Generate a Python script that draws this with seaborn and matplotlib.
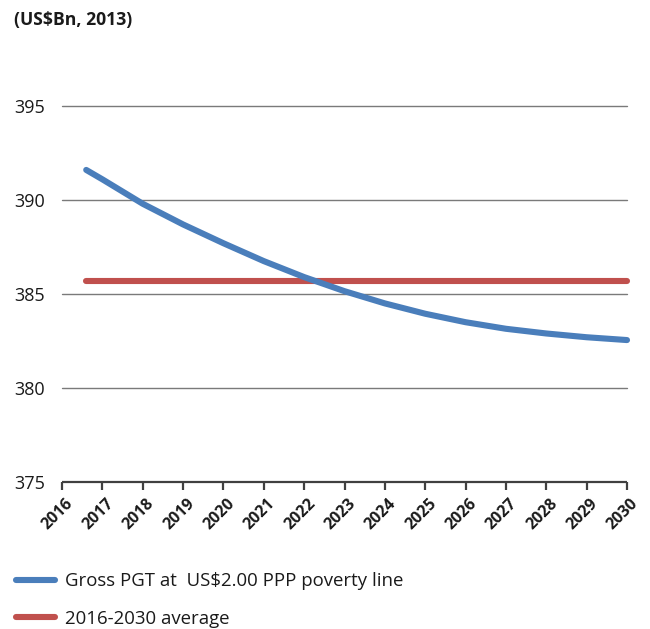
import matplotlib
matplotlib.use("Agg")
import matplotlib.pyplot as plt
import matplotlib.transforms as mtransforms
import numpy as np
import pandas as pd
import seaborn as sns

# Poverty gap total, US$ billions (2013 prices)
years = [2016.6, 2017, 2018, 2019, 2020, 2021, 2022, 2023, 2024, 2025,
         2026, 2027, 2028, 2029, 2030]
gross_pgt = [391.6, 391.1, 389.8, 388.7, 387.7, 386.75, 385.9, 385.15, 384.5,
             383.95, 383.5, 383.15, 382.9, 382.7, 382.55]
average_value = 385.7
tick_years = list(range(2016, 2031))
y_ticks = [375, 380, 385, 390, 395]

series_label = "Gross PGT at  US$2.00 PPP poverty line"
average_label = "2016-2030 average"
unit_label = "(US$Bn, 2013)"

blue = "#4A7EBB"
red = "#C0504D"

sns.set_theme(style="white")
plt.rcParams["font.family"] = ["Open Sans", "DejaVu Sans"]

df = pd.DataFrame({"year": years, "value": gross_pgt})
avg_df = pd.DataFrame({"year": [years[0], years[-1]],
                       "value": [average_value, average_value]})

fig = plt.figure(figsize=(6.5, 6.29), dpi=100)
ax = fig.add_axes([62 / 650, 1 - 482 / 629, (627 - 62) / 650, (482 - 106) / 629])

for y in y_ticks[1:]:
    ax.axhline(y, color="#7a7a7a", lw=1.0, zorder=1, clip_on=False)

sns.lineplot(data=df, x="year", y="value", ax=ax, color=blue, lw=4.4,
             solid_capstyle="round", label=series_label, zorder=3,
             clip_on=False, legend=False)
sns.lineplot(data=avg_df, x="year", y="value", ax=ax, color=red, lw=4.4,
             solid_capstyle="round", label=average_label, zorder=2,
             clip_on=False, legend=False)

ax.set_xlim(2016, 2030)
ax.set_ylim(375, 395)
ax.set_xticks(tick_years)
ax.set_yticks(y_ticks)
ax.set_xlabel("")
ax.set_ylabel("")

for side in ["top", "right", "left"]:
    ax.spines[side].set_visible(False)
ax.spines["bottom"].set_color("#404040")
ax.spines["bottom"].set_linewidth(1.6)
ax.spines["bottom"].set_capstyle("butt")

ax.tick_params(axis="x", which="both", bottom=True, length=6, width=1.6,
               color="#404040", pad=4, labelsize=11.5, labelcolor="#1a1a1a")
ax.tick_params(axis="y", which="both", left=False, length=0, pad=12,
               labelsize=13, labelcolor="#1a1a1a")

shift = mtransforms.ScaledTranslation(-4 / 100, 0, fig.dpi_scale_trans)
for lbl in ax.get_xticklabels():
    lbl.set_rotation(45)
    lbl.set_ha("center")
    lbl.set_va("top")
    lbl.set_fontweight("bold")
    lbl.set_transform(lbl.get_transform() + shift)

fig.text(14 / 650, 1 - 20 / 629, unit_label, fontsize=12.7, fontweight="bold",
         color="#1a1a1a", ha="left", va="center")

handles, labels = ax.get_legend_handles_labels()
leg = fig.legend(handles, labels, loc="upper left",
                 bbox_to_anchor=(8.5 / 650, 1 - 565 / 629),
                 frameon=False, fontsize=13.4, handlelength=2.1,
                 handletextpad=0.55, labelspacing=1.05, borderaxespad=0)
for t in leg.get_texts():
    t.set_color("#1a1a1a")

fig.savefig("out.png", dpi=100)
